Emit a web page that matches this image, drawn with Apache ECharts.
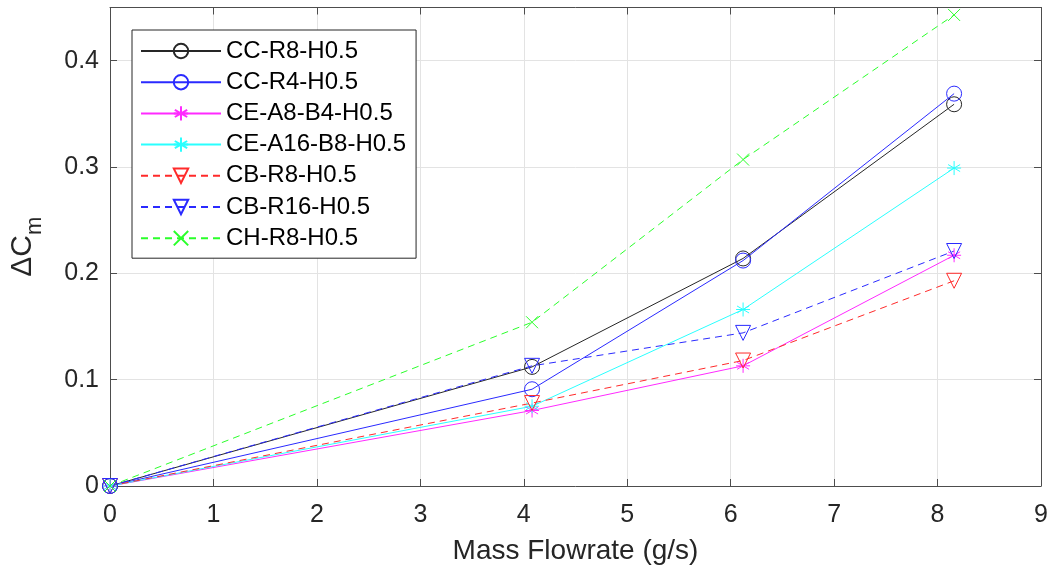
<!DOCTYPE html>
<html>
<head>
<meta charset="utf-8">
<script src="https://cdn.jsdelivr.net/npm/echarts@6/dist/echarts.min.js"></script>
<style>
html,body{margin:0;padding:0;background:#fff;}
#main{width:1054px;height:575px;}
</style>
</head>
<body>
<div id="main"></div>
<script>
// Data
const massFlow = [0, 4.08, 6.12, 8.16];
const seriesNames = ['CC-R8-H0.5','CC-R4-H0.5','CE-A8-B4-H0.5','CE-A16-B8-H0.5','CB-R8-H0.5','CB-R16-H0.5','CH-R8-H0.5'];
const ccR8   = [0, 0.112, 0.214, 0.359];
const ccR4   = [0, 0.091, 0.212, 0.369];
const ceA8   = [0, 0.071, 0.113, 0.217];
const ceA16  = [0, 0.075, 0.166, 0.299];
const cbR8   = [0, 0.078, 0.118, 0.193];
const cbR16  = [0, 0.113, 0.144, 0.221];
const chR8   = [0, 0.154, 0.307, 0.443];
const xTicks = [0,1,2,3,4,5,6,7,8,9];

const FONT = '"Liberation Sans", Arial, Helvetica, sans-serif';
const SYM_STAR = 'path://M5 0L5 10M0.7 2.5L9.3 7.5M0.7 7.5L9.3 2.5M0 5L10 5';
const SYM_X = 'path://M0 0L10 10M10 0L0 10';
const SYM_TRI = 'path://M0 0L10 0L5 8.66Z';
const SYM_CIRC = 'circle';

function pairs(vals){ return massFlow.map((x,i)=>[x, vals[i]]); }

const specs = [
  {vals: ccR8,  color:'#262626', dash:'solid', sym:SYM_CIRC, size:15},
  {vals: ccR4,  color:'#2a2aff', dash:'solid', sym:SYM_CIRC, size:15},
  {vals: ceA8,  color:'#ff2aff', dash:'solid', sym:SYM_STAR, size:14},
  {vals: ceA16, color:'#2affff', dash:'solid', sym:SYM_STAR, size:14},
  {vals: cbR8,  color:'#ff2a2a', dash:[7,5],   sym:SYM_TRI,  size:15},
  {vals: cbR16, color:'#2a2aff', dash:[7,5],   sym:SYM_TRI,  size:15},
  {vals: chR8,  color:'#2aff2a', dash:[7,5],   sym:SYM_X,    size:12}
];

const series = specs.map((s,i)=>({
  name: seriesNames[i],
  type: 'line',
  data: pairs(s.vals),
  xAxisIndex: 0, yAxisIndex: 0,
  symbol: s.sym,
  symbolSize: s.size,
  showAllSymbol: true,
  lineStyle: {color: s.color, width: 1, type: s.dash},
  itemStyle: {color: 'rgba(0,0,0,0)', borderColor: s.color, borderWidth: 1},
  emphasis: {disabled: true},
  animation: false,
  z: 2
}));

const axisColor = '#4d4d4d';
const chart = echarts.init(document.getElementById('main'));
chart.setOption({
  animation: false,
  backgroundColor: '#fff',
  grid: {left: 110, right: 13, top: 7.5, bottom: 89, containLabel: false},
  legend: {
    orient: 'vertical',
    left: 132, top: 30,
    data: seriesNames,
    itemWidth: 80, itemHeight: 18, itemGap: 7.2,
    padding: [9, 10, 8, 8],
    borderColor: '#262626', borderWidth: 1,
    backgroundColor: '#fff',
    textStyle: {fontFamily: FONT, fontSize: 24, color: '#000', lineHeight: 24},
    selectedMode: false
  },
  xAxis: [{
    type: 'value', min: 0, max: 9, interval: 1, position: 'bottom',
    name: 'Mass Flowrate (g/s)', nameLocation: 'middle', nameGap: 51,
    nameTextStyle: {fontFamily: FONT, fontSize: 28, color: '#262626'},
    axisLine: {show: true, onZero: false, lineStyle: {color: axisColor, width: 1}},
    axisTick: {show: true, inside: true, length: 7, lineStyle: {color: axisColor}},
    axisLabel: {fontFamily: FONT, fontSize: 25, color: '#262626', margin: 17,
      formatter: v => xTicks.indexOf(v) >= 0 ? String(v) : ''},
    splitLine: {show: true, lineStyle: {color: '#e3e3e3', width: 1}}
  },{
    type: 'value', min: 0, max: 9, interval: 1, position: 'top',
    axisLine: {show: true, onZero: false, lineStyle: {color: axisColor, width: 1}},
    axisTick: {show: true, inside: true, length: 7, lineStyle: {color: axisColor}},
    axisLabel: {show: false}, splitLine: {show: false}
  }],
  yAxis: [{
    type: 'value', min: 0, max: 0.45, interval: 0.1, position: 'left',
    name: '{a|ΔC}{b|m}', nameLocation: 'middle', nameGap: 64, nameRotate: 90,
    nameTextStyle: {fontFamily: FONT, color: '#262626',
      rich: {a: {fontFamily: FONT, fontSize: 30, color: '#262626', lineHeight: 38, verticalAlign: 'top'},
             b: {fontFamily: FONT, fontSize: 22, color: '#262626', lineHeight: 38, verticalAlign: 'bottom', padding: [15,0,0,0]}}},
    axisLine: {show: true, onZero: false, lineStyle: {color: axisColor, width: 1}},
    axisTick: {show: true, inside: true, length: 7, lineStyle: {color: axisColor}},
    axisLabel: {fontFamily: FONT, fontSize: 25, color: '#262626', margin: 11, showMaxLabel: false},
    splitLine: {show: true, lineStyle: {color: '#e3e3e3', width: 1}}
  },{
    type: 'value', min: 0, max: 0.45, interval: 0.1, position: 'right',
    axisLine: {show: true, onZero: false, lineStyle: {color: axisColor, width: 1}},
    axisTick: {show: true, inside: true, length: 7, lineStyle: {color: axisColor}},
    axisLabel: {show: false}, splitLine: {show: false}
  }],
  series: series
});
</script>
</body>
</html>
